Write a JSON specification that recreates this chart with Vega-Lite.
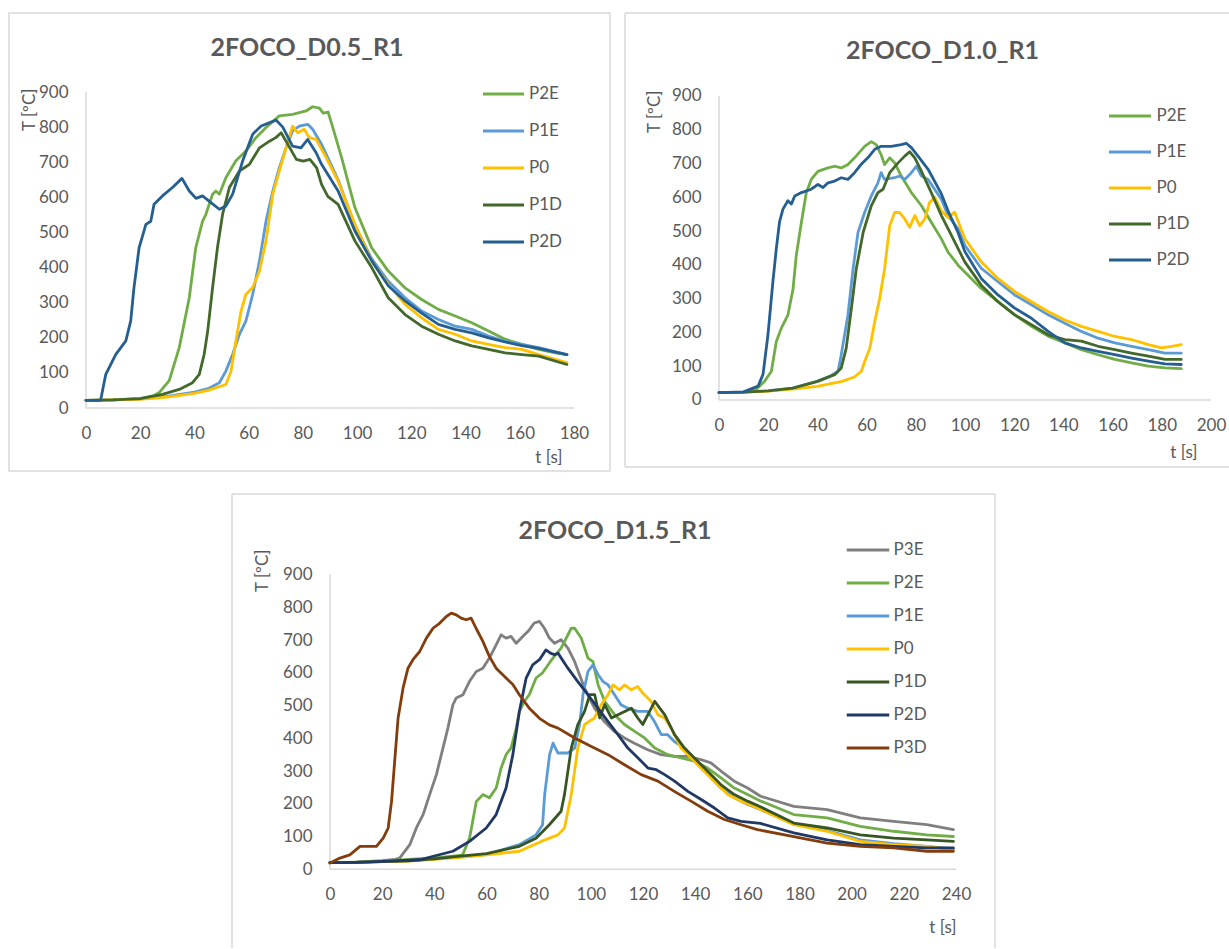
{
  "$schema": "https://vega.github.io/schema/vega-lite/v6.json",
  "background": "white",
  "padding": {"left": 8, "top": 12, "right": 1, "bottom": 1},
  "autosize": {"type": "pad"},
  "config": {
    "font": "Lato",
    "view": {"stroke": null},
    "axis": {"domain": false, "ticks": false, "grid": false, "labelFont": "Lato", "labelFontSize": 17, "labelColor": "#595959", "titleFont": "Lato", "titleFontSize": 17, "titleFontWeight": "normal", "titleColor": "#595959", "labelFlush": false, "labelOverlap": false, "labelBound": false},
    "axisX": {"labelPadding": 17, "titleAlign": "right", "titleBaseline": "alphabetic"},
    "axisY": {"labelPadding": 18, "titleAngle": 270, "titleAlign": "right", "titleBaseline": "middle"},
    "legend": {"orient": "none", "symbolType": "stroke", "symbolStrokeWidth": 3, "labelFont": "Lato", "labelFontSize": 17, "labelColor": "#595959", "padding": 0, "offset": 0, "rowPadding": 0},
    "title": {"font": "Lato", "fontSize": 25, "fontWeight": "bold", "color": "#595959", "anchor": "middle", "frame": "group", "offset": 0, "baseline": "alphabetic"}
  },
  "datasets": {
    "d05": [
      {"sensor":"P2E","time":0,"temp":22},{"sensor":"P2E","time":10,"temp":23},{"sensor":"P2E","time":20,"temp":27},{"sensor":"P2E","time":25,"temp":35},{"sensor":"P2E","time":27,"temp":44},{"sensor":"P2E","time":30.7,"temp":78},{"sensor":"P2E","time":34.4,"temp":172},{"sensor":"P2E","time":38.1,"temp":314},{"sensor":"P2E","time":40.5,"temp":457},{"sensor":"P2E","time":43,"temp":532},{"sensor":"P2E","time":44.2,"temp":551},{"sensor":"P2E","time":46.7,"temp":609},{"sensor":"P2E","time":47.9,"temp":618},{"sensor":"P2E","time":49.2,"temp":609},{"sensor":"P2E","time":51.6,"temp":656},{"sensor":"P2E","time":55.3,"temp":704},{"sensor":"P2E","time":59,"temp":732},{"sensor":"P2E","time":62.7,"temp":770},{"sensor":"P2E","time":66.4,"temp":799},{"sensor":"P2E","time":71.3,"temp":832},{"sensor":"P2E","time":76.2,"temp":836},{"sensor":"P2E","time":81.2,"temp":846},{"sensor":"P2E","time":83.6,"temp":858},{"sensor":"P2E","time":86.1,"temp":854},{"sensor":"P2E","time":87.5,"temp":840},{"sensor":"P2E","time":89.3,"temp":843},{"sensor":"P2E","time":91,"temp":800},{"sensor":"P2E","time":94.3,"temp":713},{"sensor":"P2E","time":99.2,"temp":571},{"sensor":"P2E","time":105.4,"temp":456},{"sensor":"P2E","time":111.5,"temp":390},{"sensor":"P2E","time":117.7,"temp":342},{"sensor":"P2E","time":123.8,"temp":309},{"sensor":"P2E","time":130,"temp":281},{"sensor":"P2E","time":136.2,"temp":262},{"sensor":"P2E","time":142.3,"temp":243},{"sensor":"P2E","time":148.5,"temp":219},{"sensor":"P2E","time":154.6,"temp":196},{"sensor":"P2E","time":160.8,"temp":181},{"sensor":"P2E","time":167,"temp":167},{"sensor":"P2E","time":173.1,"temp":157},{"sensor":"P2E","time":177.4,"temp":152},
      {"sensor":"P1E","time":0,"temp":22},{"sensor":"P1E","time":10,"temp":23},{"sensor":"P1E","time":20,"temp":26},{"sensor":"P1E","time":30,"temp":33},{"sensor":"P1E","time":40,"temp":45},{"sensor":"P1E","time":45,"temp":55},{"sensor":"P1E","time":49.2,"temp":72},{"sensor":"P1E","time":51.6,"temp":105},{"sensor":"P1E","time":54.1,"temp":153},{"sensor":"P1E","time":56.6,"temp":210},{"sensor":"P1E","time":59,"temp":248},{"sensor":"P1E","time":61.5,"temp":324},{"sensor":"P1E","time":64,"temp":419},{"sensor":"P1E","time":66.4,"temp":532},{"sensor":"P1E","time":68.9,"temp":618},{"sensor":"P1E","time":71.3,"temp":684},{"sensor":"P1E","time":73.8,"temp":741},{"sensor":"P1E","time":76.2,"temp":789},{"sensor":"P1E","time":78.7,"temp":803},{"sensor":"P1E","time":81.8,"temp":808},{"sensor":"P1E","time":83.6,"temp":794},{"sensor":"P1E","time":86.9,"temp":751},{"sensor":"P1E","time":90,"temp":700},{"sensor":"P1E","time":93,"temp":650},{"sensor":"P1E","time":99.2,"temp":520},{"sensor":"P1E","time":105.4,"temp":425},{"sensor":"P1E","time":111.5,"temp":361},{"sensor":"P1E","time":117.7,"temp":314},{"sensor":"P1E","time":123.8,"temp":276},{"sensor":"P1E","time":130,"temp":252},{"sensor":"P1E","time":136.2,"temp":233},{"sensor":"P1E","time":142.3,"temp":224},{"sensor":"P1E","time":148.5,"temp":205},{"sensor":"P1E","time":154.6,"temp":190},{"sensor":"P1E","time":160.8,"temp":181},{"sensor":"P1E","time":167,"temp":172},{"sensor":"P1E","time":177.4,"temp":152},
      {"sensor":"P0","time":0,"temp":22},{"sensor":"P0","time":10,"temp":23},{"sensor":"P0","time":20,"temp":25},{"sensor":"P0","time":30,"temp":31},{"sensor":"P0","time":40,"temp":42},{"sensor":"P0","time":45,"temp":50},{"sensor":"P0","time":51.6,"temp":67},{"sensor":"P0","time":53.5,"temp":105},{"sensor":"P0","time":55.3,"temp":191},{"sensor":"P0","time":57.2,"temp":276},{"sensor":"P0","time":59,"temp":324},{"sensor":"P0","time":61.5,"temp":343},{"sensor":"P0","time":64,"temp":390},{"sensor":"P0","time":66.4,"temp":476},{"sensor":"P0","time":68.9,"temp":609},{"sensor":"P0","time":71.3,"temp":675},{"sensor":"P0","time":73.8,"temp":741},{"sensor":"P0","time":76.2,"temp":803},{"sensor":"P0","time":78.1,"temp":784},{"sensor":"P0","time":80.5,"temp":794},{"sensor":"P0","time":82.4,"temp":770},{"sensor":"P0","time":84.9,"temp":765},{"sensor":"P0","time":88.6,"temp":713},{"sensor":"P0","time":93,"temp":646},{"sensor":"P0","time":99.2,"temp":523},{"sensor":"P0","time":105.4,"temp":419},{"sensor":"P0","time":111.5,"temp":352},{"sensor":"P0","time":117.7,"temp":295},{"sensor":"P0","time":123.8,"temp":257},{"sensor":"P0","time":130,"temp":224},{"sensor":"P0","time":136.2,"temp":210},{"sensor":"P0","time":142.3,"temp":191},{"sensor":"P0","time":148.5,"temp":181},{"sensor":"P0","time":154.6,"temp":172},{"sensor":"P0","time":160.8,"temp":167},{"sensor":"P0","time":167,"temp":152},{"sensor":"P0","time":177.4,"temp":129},
      {"sensor":"P1D","time":0,"temp":22},{"sensor":"P1D","time":10,"temp":23},{"sensor":"P1D","time":20,"temp":27},{"sensor":"P1D","time":28.2,"temp":39},{"sensor":"P1D","time":34.4,"temp":53},{"sensor":"P1D","time":39.3,"temp":72},{"sensor":"P1D","time":41.8,"temp":96},{"sensor":"P1D","time":43.6,"temp":153},{"sensor":"P1D","time":44.9,"temp":219},{"sensor":"P1D","time":46.7,"temp":343},{"sensor":"P1D","time":48.5,"temp":457},{"sensor":"P1D","time":50.4,"temp":552},{"sensor":"P1D","time":52.9,"temp":628},{"sensor":"P1D","time":56.6,"temp":675},{"sensor":"P1D","time":60.3,"temp":694},{"sensor":"P1D","time":64,"temp":741},{"sensor":"P1D","time":67.7,"temp":760},{"sensor":"P1D","time":70,"temp":770},{"sensor":"P1D","time":72,"temp":784},{"sensor":"P1D","time":75.2,"temp":741},{"sensor":"P1D","time":77.6,"temp":708},{"sensor":"P1D","time":80.1,"temp":703},{"sensor":"P1D","time":82.6,"temp":708},{"sensor":"P1D","time":85.1,"temp":684},{"sensor":"P1D","time":86.9,"temp":637},{"sensor":"P1D","time":89.2,"temp":603},{"sensor":"P1D","time":93,"temp":580},{"sensor":"P1D","time":99.2,"temp":476},{"sensor":"P1D","time":105.4,"temp":400},{"sensor":"P1D","time":111.5,"temp":314},{"sensor":"P1D","time":117.7,"temp":266},{"sensor":"P1D","time":123.8,"temp":233},{"sensor":"P1D","time":130,"temp":210},{"sensor":"P1D","time":136.2,"temp":191},{"sensor":"P1D","time":142.3,"temp":177},{"sensor":"P1D","time":148.5,"temp":167},{"sensor":"P1D","time":154.6,"temp":157},{"sensor":"P1D","time":160.8,"temp":152},{"sensor":"P1D","time":167,"temp":148},{"sensor":"P1D","time":177.4,"temp":124},
      {"sensor":"P2D","time":0,"temp":22},{"sensor":"P2D","time":5.4,"temp":22},{"sensor":"P2D","time":7.3,"temp":96},{"sensor":"P2D","time":11,"temp":153},{"sensor":"P2D","time":14.7,"temp":191},{"sensor":"P2D","time":16.5,"temp":248},{"sensor":"P2D","time":17.7,"temp":343},{"sensor":"P2D","time":19.6,"temp":457},{"sensor":"P2D","time":22.1,"temp":523},{"sensor":"P2D","time":23.9,"temp":532},{"sensor":"P2D","time":25.1,"temp":580},{"sensor":"P2D","time":28.2,"temp":604},{"sensor":"P2D","time":31.9,"temp":628},{"sensor":"P2D","time":35.4,"temp":654},{"sensor":"P2D","time":38.1,"temp":618},{"sensor":"P2D","time":40.6,"temp":597},{"sensor":"P2D","time":43,"temp":604},{"sensor":"P2D","time":46.1,"temp":585},{"sensor":"P2D","time":49.2,"temp":566},{"sensor":"P2D","time":51.6,"temp":575},{"sensor":"P2D","time":54.1,"temp":609},{"sensor":"P2D","time":57.8,"temp":704},{"sensor":"P2D","time":61.5,"temp":780},{"sensor":"P2D","time":64.6,"temp":803},{"sensor":"P2D","time":70.1,"temp":820},{"sensor":"P2D","time":72.6,"temp":800},{"sensor":"P2D","time":76.2,"temp":746},{"sensor":"P2D","time":79.3,"temp":741},{"sensor":"P2D","time":81.8,"temp":765},{"sensor":"P2D","time":84.9,"temp":727},{"sensor":"P2D","time":86.9,"temp":694},{"sensor":"P2D","time":93,"temp":618},{"sensor":"P2D","time":99.2,"temp":504},{"sensor":"P2D","time":105.4,"temp":419},{"sensor":"P2D","time":111.5,"temp":348},{"sensor":"P2D","time":117.7,"temp":305},{"sensor":"P2D","time":123.8,"temp":270},{"sensor":"P2D","time":130,"temp":238},{"sensor":"P2D","time":136.2,"temp":224},{"sensor":"P2D","time":142.3,"temp":214},{"sensor":"P2D","time":148.5,"temp":200},{"sensor":"P2D","time":154.6,"temp":188},{"sensor":"P2D","time":160.8,"temp":178},{"sensor":"P2D","time":167,"temp":170},{"sensor":"P2D","time":177.4,"temp":152}
    ],
    "d10": [
      {"sensor":"P2E","time":0,"temp":22},{"sensor":"P2E","time":10,"temp":23},{"sensor":"P2E","time":15,"temp":30},{"sensor":"P2E","time":18.6,"temp":56},{"sensor":"P2E","time":21.3,"temp":85},{"sensor":"P2E","time":23.3,"temp":173},{"sensor":"P2E","time":25.3,"temp":212},{"sensor":"P2E","time":28,"temp":251},{"sensor":"P2E","time":30.1,"temp":329},{"sensor":"P2E","time":31.4,"temp":427},{"sensor":"P2E","time":33.5,"temp":526},{"sensor":"P2E","time":35.5,"temp":614},{"sensor":"P2E","time":37.5,"temp":653},{"sensor":"P2E","time":40.2,"temp":677},{"sensor":"P2E","time":44.3,"temp":687},{"sensor":"P2E","time":47,"temp":692},{"sensor":"P2E","time":49.7,"temp":687},{"sensor":"P2E","time":52.4,"temp":697},{"sensor":"P2E","time":55.1,"temp":717},{"sensor":"P2E","time":59.2,"temp":751},{"sensor":"P2E","time":61.9,"temp":765},{"sensor":"P2E","time":63.9,"temp":756},{"sensor":"P2E","time":65.9,"temp":726},{"sensor":"P2E","time":67.3,"temp":697},{"sensor":"P2E","time":69.4,"temp":717},{"sensor":"P2E","time":71.4,"temp":702},{"sensor":"P2E","time":74.1,"temp":663},{"sensor":"P2E","time":78.2,"temp":614},{"sensor":"P2E","time":82.3,"temp":575},{"sensor":"P2E","time":86.3,"temp":526},{"sensor":"P2E","time":90.4,"temp":477},{"sensor":"P2E","time":93.1,"temp":438},{"sensor":"P2E","time":97.2,"temp":399},{"sensor":"P2E","time":99.9,"temp":379},{"sensor":"P2E","time":106.6,"temp":330},{"sensor":"P2E","time":113.4,"temp":291},{"sensor":"P2E","time":120.2,"temp":252},{"sensor":"P2E","time":127,"temp":218},{"sensor":"P2E","time":133.8,"temp":189},{"sensor":"P2E","time":140.6,"temp":169},{"sensor":"P2E","time":147.3,"temp":149},{"sensor":"P2E","time":154.1,"temp":134},{"sensor":"P2E","time":160.9,"temp":120},{"sensor":"P2E","time":167.7,"temp":110},{"sensor":"P2E","time":174.5,"temp":100},{"sensor":"P2E","time":181.3,"temp":95},{"sensor":"P2E","time":187.9,"temp":93},
      {"sensor":"P1E","time":0,"temp":22},{"sensor":"P1E","time":10,"temp":23},{"sensor":"P1E","time":20,"temp":27},{"sensor":"P1E","time":30,"temp":35},{"sensor":"P1E","time":40,"temp":55},{"sensor":"P1E","time":45,"temp":70},{"sensor":"P1E","time":48.4,"temp":85},{"sensor":"P1E","time":49.7,"temp":134},{"sensor":"P1E","time":52.4,"temp":251},{"sensor":"P1E","time":54.5,"temp":388},{"sensor":"P1E","time":56.5,"temp":496},{"sensor":"P1E","time":59.2,"temp":555},{"sensor":"P1E","time":61.9,"temp":604},{"sensor":"P1E","time":64.6,"temp":643},{"sensor":"P1E","time":65.9,"temp":673},{"sensor":"P1E","time":67.3,"temp":653},{"sensor":"P1E","time":71.4,"temp":658},{"sensor":"P1E","time":73.4,"temp":663},{"sensor":"P1E","time":75.5,"temp":653},{"sensor":"P1E","time":78.2,"temp":673},{"sensor":"P1E","time":80.2,"temp":692},{"sensor":"P1E","time":82.3,"temp":663},{"sensor":"P1E","time":85,"temp":653},{"sensor":"P1E","time":90.4,"temp":594},{"sensor":"P1E","time":93.1,"temp":546},{"sensor":"P1E","time":97.2,"temp":507},{"sensor":"P1E","time":99.9,"temp":458},{"sensor":"P1E","time":106.6,"temp":390},{"sensor":"P1E","time":113.4,"temp":350},{"sensor":"P1E","time":120.2,"temp":311},{"sensor":"P1E","time":127,"temp":282},{"sensor":"P1E","time":133.8,"temp":252},{"sensor":"P1E","time":140.6,"temp":227},{"sensor":"P1E","time":147.3,"temp":203},{"sensor":"P1E","time":154.1,"temp":183},{"sensor":"P1E","time":160.9,"temp":169},{"sensor":"P1E","time":167.7,"temp":159},{"sensor":"P1E","time":174.5,"temp":149},{"sensor":"P1E","time":181.3,"temp":139},{"sensor":"P1E","time":187.9,"temp":139},
      {"sensor":"P0","time":0,"temp":22},{"sensor":"P0","time":10,"temp":23},{"sensor":"P0","time":20,"temp":26},{"sensor":"P0","time":30,"temp":32},{"sensor":"P0","time":40,"temp":40},{"sensor":"P0","time":50,"temp":55},{"sensor":"P0","time":55,"temp":68},{"sensor":"P0","time":57.9,"temp":85},{"sensor":"P0","time":59.2,"temp":114},{"sensor":"P0","time":61.3,"temp":153},{"sensor":"P0","time":63.3,"temp":232},{"sensor":"P0","time":65.3,"temp":300},{"sensor":"P0","time":67.3,"temp":388},{"sensor":"P0","time":69.4,"temp":516},{"sensor":"P0","time":71.4,"temp":555},{"sensor":"P0","time":73.4,"temp":555},{"sensor":"P0","time":75.5,"temp":536},{"sensor":"P0","time":77.5,"temp":511},{"sensor":"P0","time":79.6,"temp":546},{"sensor":"P0","time":81.6,"temp":516},{"sensor":"P0","time":83.7,"temp":536},{"sensor":"P0","time":85.6,"temp":585},{"sensor":"P0","time":87.7,"temp":600},{"sensor":"P0","time":90.4,"temp":560},{"sensor":"P0","time":93.1,"temp":540},{"sensor":"P0","time":95.8,"temp":556},{"sensor":"P0","time":99.9,"temp":478},{"sensor":"P0","time":106.6,"temp":409},{"sensor":"P0","time":113.4,"temp":360},{"sensor":"P0","time":120.2,"temp":321},{"sensor":"P0","time":127,"temp":291},{"sensor":"P0","time":133.8,"temp":262},{"sensor":"P0","time":140.6,"temp":237},{"sensor":"P0","time":147.3,"temp":218},{"sensor":"P0","time":154.1,"temp":203},{"sensor":"P0","time":160.9,"temp":188},{"sensor":"P0","time":167.7,"temp":179},{"sensor":"P0","time":174.5,"temp":164},{"sensor":"P0","time":179.9,"temp":154},{"sensor":"P0","time":184,"temp":159},{"sensor":"P0","time":187.9,"temp":164},
      {"sensor":"P1D","time":0,"temp":22},{"sensor":"P1D","time":10,"temp":23},{"sensor":"P1D","time":20,"temp":27},{"sensor":"P1D","time":30,"temp":35},{"sensor":"P1D","time":40,"temp":55},{"sensor":"P1D","time":47,"temp":75},{"sensor":"P1D","time":49.7,"temp":95},{"sensor":"P1D","time":51.7,"temp":153},{"sensor":"P1D","time":53.8,"temp":270},{"sensor":"P1D","time":55.8,"temp":388},{"sensor":"P1D","time":58.6,"temp":496},{"sensor":"P1D","time":61.9,"temp":575},{"sensor":"P1D","time":64.6,"temp":614},{"sensor":"P1D","time":66.7,"temp":624},{"sensor":"P1D","time":69.4,"temp":673},{"sensor":"P1D","time":72.8,"temp":702},{"sensor":"P1D","time":75.5,"temp":722},{"sensor":"P1D","time":77.5,"temp":735},{"sensor":"P1D","time":79.6,"temp":717},{"sensor":"P1D","time":82.3,"temp":677},{"sensor":"P1D","time":86.3,"temp":614},{"sensor":"P1D","time":90.4,"temp":546},{"sensor":"P1D","time":93.1,"temp":507},{"sensor":"P1D","time":97.2,"temp":448},{"sensor":"P1D","time":99.9,"temp":409},{"sensor":"P1D","time":106.6,"temp":340},{"sensor":"P1D","time":113.4,"temp":291},{"sensor":"P1D","time":120.2,"temp":252},{"sensor":"P1D","time":127,"temp":223},{"sensor":"P1D","time":133.8,"temp":193},{"sensor":"P1D","time":140.6,"temp":179},{"sensor":"P1D","time":147.3,"temp":174},{"sensor":"P1D","time":154.1,"temp":159},{"sensor":"P1D","time":160.9,"temp":149},{"sensor":"P1D","time":167.7,"temp":139},{"sensor":"P1D","time":174.5,"temp":130},{"sensor":"P1D","time":181.3,"temp":120},{"sensor":"P1D","time":187.9,"temp":120},
      {"sensor":"P2D","time":0,"temp":22},{"sensor":"P2D","time":10,"temp":24},{"sensor":"P2D","time":15.9,"temp":41},{"sensor":"P2D","time":17.9,"temp":76},{"sensor":"P2D","time":19.9,"temp":193},{"sensor":"P2D","time":21.9,"temp":350},{"sensor":"P2D","time":23.3,"temp":448},{"sensor":"P2D","time":24.6,"temp":527},{"sensor":"P2D","time":26,"temp":565},{"sensor":"P2D","time":28,"temp":590},{"sensor":"P2D","time":29.4,"temp":580},{"sensor":"P2D","time":30.8,"temp":604},{"sensor":"P2D","time":33.5,"temp":614},{"sensor":"P2D","time":37.5,"temp":624},{"sensor":"P2D","time":40.2,"temp":638},{"sensor":"P2D","time":42.3,"temp":629},{"sensor":"P2D","time":44.3,"temp":643},{"sensor":"P2D","time":47,"temp":648},{"sensor":"P2D","time":49.7,"temp":658},{"sensor":"P2D","time":52.4,"temp":653},{"sensor":"P2D","time":55.1,"temp":673},{"sensor":"P2D","time":57.7,"temp":697},{"sensor":"P2D","time":60.5,"temp":717},{"sensor":"P2D","time":63.3,"temp":742},{"sensor":"P2D","time":65.9,"temp":751},{"sensor":"P2D","time":70,"temp":751},{"sensor":"P2D","time":74.1,"temp":756},{"sensor":"P2D","time":76.1,"temp":760},{"sensor":"P2D","time":78.2,"temp":747},{"sensor":"P2D","time":80.9,"temp":722},{"sensor":"P2D","time":85,"temp":683},{"sensor":"P2D","time":90.4,"temp":610},{"sensor":"P2D","time":93.1,"temp":560},{"sensor":"P2D","time":97.2,"temp":495},{"sensor":"P2D","time":99.9,"temp":440},{"sensor":"P2D","time":106.6,"temp":360},{"sensor":"P2D","time":113.4,"temp":311},{"sensor":"P2D","time":120.2,"temp":272},{"sensor":"P2D","time":127,"temp":242},{"sensor":"P2D","time":133.8,"temp":203},{"sensor":"P2D","time":140.6,"temp":169},{"sensor":"P2D","time":147.3,"temp":154},{"sensor":"P2D","time":154.1,"temp":144},{"sensor":"P2D","time":160.9,"temp":134},{"sensor":"P2D","time":167.7,"temp":124},{"sensor":"P2D","time":174.5,"temp":115},{"sensor":"P2D","time":181.3,"temp":107},{"sensor":"P2D","time":187.9,"temp":105}
    ],
    "d15": [
      {"sensor":"P3E","time":0,"temp":20},{"sensor":"P3E","time":10,"temp":22},{"sensor":"P3E","time":20,"temp":26},{"sensor":"P3E","time":25,"temp":30},{"sensor":"P3E","time":26.7,"temp":34},{"sensor":"P3E","time":30.6,"temp":75},{"sensor":"P3E","time":33.1,"temp":126},{"sensor":"P3E","time":35.7,"temp":167},{"sensor":"P3E","time":38.2,"temp":228},{"sensor":"P3E","time":40.8,"temp":289},{"sensor":"P3E","time":43.3,"temp":370},{"sensor":"P3E","time":45.2,"temp":431},{"sensor":"P3E","time":47.1,"temp":502},{"sensor":"P3E","time":48.4,"temp":523},{"sensor":"P3E","time":51,"temp":533},{"sensor":"P3E","time":53.5,"temp":574},{"sensor":"P3E","time":56.1,"temp":604},{"sensor":"P3E","time":58.6,"temp":614},{"sensor":"P3E","time":61.1,"temp":645},{"sensor":"P3E","time":63.7,"temp":685},{"sensor":"P3E","time":65.6,"temp":716},{"sensor":"P3E","time":67.5,"temp":706},{"sensor":"P3E","time":69.4,"temp":711},{"sensor":"P3E","time":71.4,"temp":690},{"sensor":"P3E","time":73.9,"temp":711},{"sensor":"P3E","time":76.4,"temp":731},{"sensor":"P3E","time":78.3,"temp":752},{"sensor":"P3E","time":80.3,"temp":757},{"sensor":"P3E","time":82.2,"temp":736},{"sensor":"P3E","time":84.1,"temp":706},{"sensor":"P3E","time":86.1,"temp":690},{"sensor":"P3E","time":88.6,"temp":701},{"sensor":"P3E","time":91.2,"temp":675},{"sensor":"P3E","time":93.8,"temp":634},{"sensor":"P3E","time":97.6,"temp":553},{"sensor":"P3E","time":101.4,"temp":492},{"sensor":"P3E","time":105.2,"temp":451},{"sensor":"P3E","time":109,"temp":421},{"sensor":"P3E","time":112.9,"temp":401},{"sensor":"P3E","time":116.7,"temp":385},{"sensor":"P3E","time":121.8,"temp":365},{"sensor":"P3E","time":126.9,"temp":350},{"sensor":"P3E","time":132,"temp":345},{"sensor":"P3E","time":137.1,"temp":345},{"sensor":"P3E","time":142.2,"temp":335},{"sensor":"P3E","time":146,"temp":325},{"sensor":"P3E","time":149.9,"temp":300},{"sensor":"P3E","time":155,"temp":269},{"sensor":"P3E","time":160.1,"temp":248},{"sensor":"P3E","time":165.1,"temp":223},{"sensor":"P3E","time":177.8,"temp":192},{"sensor":"P3E","time":190.6,"temp":182},{"sensor":"P3E","time":203.3,"temp":157},{"sensor":"P3E","time":216.1,"temp":146},{"sensor":"P3E","time":228.8,"temp":136},{"sensor":"P3E","time":239,"temp":121},
      {"sensor":"P2E","time":0,"temp":20},{"sensor":"P2E","time":10,"temp":22},{"sensor":"P2E","time":20,"temp":25},{"sensor":"P2E","time":30,"temp":30},{"sensor":"P2E","time":40,"temp":35},{"sensor":"P2E","time":50,"temp":42},{"sensor":"P2E","time":50.9,"temp":45},{"sensor":"P2E","time":53.5,"temp":95},{"sensor":"P2E","time":56.1,"temp":207},{"sensor":"P2E","time":58.6,"temp":228},{"sensor":"P2E","time":61.1,"temp":218},{"sensor":"P2E","time":63.7,"temp":248},{"sensor":"P2E","time":65.6,"temp":309},{"sensor":"P2E","time":67.5,"temp":350},{"sensor":"P2E","time":69.4,"temp":370},{"sensor":"P2E","time":71.4,"temp":431},{"sensor":"P2E","time":72.6,"temp":482},{"sensor":"P2E","time":74.5,"temp":513},{"sensor":"P2E","time":76.4,"temp":533},{"sensor":"P2E","time":79,"temp":584},{"sensor":"P2E","time":81.5,"temp":600},{"sensor":"P2E","time":84.1,"temp":630},{"sensor":"P2E","time":86,"temp":650},{"sensor":"P2E","time":88.6,"temp":675},{"sensor":"P2E","time":92.5,"temp":736},{"sensor":"P2E","time":93.8,"temp":736},{"sensor":"P2E","time":96.3,"temp":706},{"sensor":"P2E","time":98.9,"temp":645},{"sensor":"P2E","time":100.8,"temp":634},{"sensor":"P2E","time":102.8,"temp":563},{"sensor":"P2E","time":105.3,"temp":513},{"sensor":"P2E","time":109.1,"temp":472},{"sensor":"P2E","time":112.9,"temp":442},{"sensor":"P2E","time":116.8,"temp":421},{"sensor":"P2E","time":120.6,"temp":401},{"sensor":"P2E","time":124.5,"temp":370},{"sensor":"P2E","time":129.5,"temp":350},{"sensor":"P2E","time":134.6,"temp":340},{"sensor":"P2E","time":139.7,"temp":330},{"sensor":"P2E","time":144.8,"temp":309},{"sensor":"P2E","time":149.9,"temp":279},{"sensor":"P2E","time":155,"temp":248},{"sensor":"P2E","time":160.1,"temp":228},{"sensor":"P2E","time":165.2,"temp":208},{"sensor":"P2E","time":177.8,"temp":167},{"sensor":"P2E","time":190.6,"temp":157},{"sensor":"P2E","time":203.3,"temp":131},{"sensor":"P2E","time":216.1,"temp":116},{"sensor":"P2E","time":228.8,"temp":105},{"sensor":"P2E","time":239,"temp":100},
      {"sensor":"P1E","time":0,"temp":20},{"sensor":"P1E","time":10,"temp":21},{"sensor":"P1E","time":20,"temp":23},{"sensor":"P1E","time":30,"temp":26},{"sensor":"P1E","time":40,"temp":32},{"sensor":"P1E","time":50,"temp":38},{"sensor":"P1E","time":59.9,"temp":45},{"sensor":"P1E","time":72.6,"temp":75},{"sensor":"P1E","time":79,"temp":105},{"sensor":"P1E","time":81.5,"temp":136},{"sensor":"P1E","time":82.3,"temp":228},{"sensor":"P1E","time":84.2,"temp":350},{"sensor":"P1E","time":85.5,"temp":385},{"sensor":"P1E","time":87.4,"temp":355},{"sensor":"P1E","time":91.2,"temp":355},{"sensor":"P1E","time":93.8,"temp":370},{"sensor":"P1E","time":95.7,"temp":442},{"sensor":"P1E","time":97,"temp":533},{"sensor":"P1E","time":98.9,"temp":604},{"sensor":"P1E","time":100.8,"temp":624},{"sensor":"P1E","time":102.8,"temp":594},{"sensor":"P1E","time":104.7,"temp":573},{"sensor":"P1E","time":106.6,"temp":563},{"sensor":"P1E","time":109.1,"temp":533},{"sensor":"P1E","time":111.6,"temp":502},{"sensor":"P1E","time":114.2,"temp":492},{"sensor":"P1E","time":118,"temp":482},{"sensor":"P1E","time":121.8,"temp":482},{"sensor":"P1E","time":124.4,"temp":451},{"sensor":"P1E","time":127,"temp":411},{"sensor":"P1E","time":129.5,"temp":411},{"sensor":"P1E","time":132,"temp":390},{"sensor":"P1E","time":135.9,"temp":370},{"sensor":"P1E","time":139.7,"temp":330},{"sensor":"P1E","time":144.8,"temp":289},{"sensor":"P1E","time":149.9,"temp":248},{"sensor":"P1E","time":155,"temp":218},{"sensor":"P1E","time":160.1,"temp":198},{"sensor":"P1E","time":165.2,"temp":182},{"sensor":"P1E","time":177.8,"temp":138},{"sensor":"P1E","time":190.6,"temp":118},{"sensor":"P1E","time":203.3,"temp":90},{"sensor":"P1E","time":216.1,"temp":78},{"sensor":"P1E","time":228.8,"temp":70},{"sensor":"P1E","time":239,"temp":62},
      {"sensor":"P0","time":0,"temp":20},{"sensor":"P0","time":10,"temp":21},{"sensor":"P0","time":20,"temp":23},{"sensor":"P0","time":30,"temp":25},{"sensor":"P0","time":40,"temp":30},{"sensor":"P0","time":50,"temp":36},{"sensor":"P0","time":60,"temp":44},{"sensor":"P0","time":72.6,"temp":55},{"sensor":"P0","time":81,"temp":85},{"sensor":"P0","time":87.4,"temp":105},{"sensor":"P0","time":89.9,"temp":126},{"sensor":"P0","time":92.5,"temp":228},{"sensor":"P0","time":95,"temp":370},{"sensor":"P0","time":97.6,"temp":442},{"sensor":"P0","time":101.4,"temp":462},{"sensor":"P0","time":104,"temp":503},{"sensor":"P0","time":106.6,"temp":533},{"sensor":"P0","time":108.5,"temp":563},{"sensor":"P0","time":111,"temp":548},{"sensor":"P0","time":112.9,"temp":563},{"sensor":"P0","time":115.5,"temp":548},{"sensor":"P0","time":118,"temp":558},{"sensor":"P0","time":119.9,"temp":538},{"sensor":"P0","time":123.1,"temp":513},{"sensor":"P0","time":125.7,"temp":472},{"sensor":"P0","time":128.3,"temp":462},{"sensor":"P0","time":130.8,"temp":431},{"sensor":"P0","time":134.6,"temp":370},{"sensor":"P0","time":138.5,"temp":340},{"sensor":"P0","time":142.3,"temp":309},{"sensor":"P0","time":147.4,"temp":269},{"sensor":"P0","time":152.5,"temp":228},{"sensor":"P0","time":157.6,"temp":208},{"sensor":"P0","time":163.9,"temp":187},{"sensor":"P0","time":177.8,"temp":136},{"sensor":"P0","time":190.6,"temp":116},{"sensor":"P0","time":203.3,"temp":85},{"sensor":"P0","time":216.1,"temp":75},{"sensor":"P0","time":228.8,"temp":70},{"sensor":"P0","time":239,"temp":60},
      {"sensor":"P1D","time":0,"temp":20},{"sensor":"P1D","time":10,"temp":21},{"sensor":"P1D","time":20,"temp":23},{"sensor":"P1D","time":30,"temp":26},{"sensor":"P1D","time":40,"temp":32},{"sensor":"P1D","time":50,"temp":40},{"sensor":"P1D","time":60,"temp":48},{"sensor":"P1D","time":72.6,"temp":70},{"sensor":"P1D","time":79,"temp":95},{"sensor":"P1D","time":84.1,"temp":136},{"sensor":"P1D","time":88.6,"temp":177},{"sensor":"P1D","time":89.9,"temp":228},{"sensor":"P1D","time":92.5,"temp":370},{"sensor":"P1D","time":95,"temp":442},{"sensor":"P1D","time":97.6,"temp":482},{"sensor":"P1D","time":99.6,"temp":533},{"sensor":"P1D","time":101.5,"temp":533},{"sensor":"P1D","time":103.4,"temp":462},{"sensor":"P1D","time":105.3,"temp":503},{"sensor":"P1D","time":107.9,"temp":462},{"sensor":"P1D","time":110.4,"temp":472},{"sensor":"P1D","time":113,"temp":482},{"sensor":"P1D","time":115.5,"temp":492},{"sensor":"P1D","time":118,"temp":462},{"sensor":"P1D","time":119.9,"temp":442},{"sensor":"P1D","time":121.9,"temp":472},{"sensor":"P1D","time":124.5,"temp":513},{"sensor":"P1D","time":126.4,"temp":492},{"sensor":"P1D","time":128.3,"temp":472},{"sensor":"P1D","time":132.1,"temp":411},{"sensor":"P1D","time":135.9,"temp":370},{"sensor":"P1D","time":139.7,"temp":340},{"sensor":"P1D","time":144.8,"temp":299},{"sensor":"P1D","time":149.9,"temp":258},{"sensor":"P1D","time":155,"temp":228},{"sensor":"P1D","time":160.1,"temp":208},{"sensor":"P1D","time":165.2,"temp":190},{"sensor":"P1D","time":177.8,"temp":141},{"sensor":"P1D","time":190.6,"temp":126},{"sensor":"P1D","time":203.3,"temp":105},{"sensor":"P1D","time":216.1,"temp":95},{"sensor":"P1D","time":228.8,"temp":90},{"sensor":"P1D","time":239,"temp":85},
      {"sensor":"P2D","time":0,"temp":20},{"sensor":"P2D","time":10,"temp":21},{"sensor":"P2D","time":20,"temp":24},{"sensor":"P2D","time":34.4,"temp":29},{"sensor":"P2D","time":47.1,"temp":55},{"sensor":"P2D","time":53.5,"temp":85},{"sensor":"P2D","time":59.9,"temp":126},{"sensor":"P2D","time":63.7,"temp":167},{"sensor":"P2D","time":67.5,"temp":248},{"sensor":"P2D","time":70.1,"temp":350},{"sensor":"P2D","time":72.6,"temp":482},{"sensor":"P2D","time":75.2,"temp":584},{"sensor":"P2D","time":77.7,"temp":624},{"sensor":"P2D","time":80.3,"temp":640},{"sensor":"P2D","time":82.8,"temp":670},{"sensor":"P2D","time":84.5,"temp":660},{"sensor":"P2D","time":86.1,"temp":655},{"sensor":"P2D","time":87.4,"temp":660},{"sensor":"P2D","time":91.2,"temp":614},{"sensor":"P2D","time":95,"temp":573},{"sensor":"P2D","time":98.9,"temp":533},{"sensor":"P2D","time":102.7,"temp":492},{"sensor":"P2D","time":106.6,"temp":451},{"sensor":"P2D","time":110.4,"temp":411},{"sensor":"P2D","time":114.2,"temp":370},{"sensor":"P2D","time":118.1,"temp":340},{"sensor":"P2D","time":121.9,"temp":309},{"sensor":"P2D","time":125.1,"temp":304},{"sensor":"P2D","time":128.3,"temp":289},{"sensor":"P2D","time":132.1,"temp":269},{"sensor":"P2D","time":137.2,"temp":238},{"sensor":"P2D","time":142.3,"temp":213},{"sensor":"P2D","time":147.4,"temp":187},{"sensor":"P2D","time":152.5,"temp":157},{"sensor":"P2D","time":157.6,"temp":146},{"sensor":"P2D","time":165,"temp":140},{"sensor":"P2D","time":177.8,"temp":111},{"sensor":"P2D","time":190.6,"temp":90},{"sensor":"P2D","time":203.3,"temp":75},{"sensor":"P2D","time":216.1,"temp":70},{"sensor":"P2D","time":228.8,"temp":65},{"sensor":"P2D","time":239,"temp":65},
      {"sensor":"P3D","time":0,"temp":19},{"sensor":"P3D","time":3.8,"temp":34},{"sensor":"P3D","time":7.6,"temp":44},{"sensor":"P3D","time":11.5,"temp":70},{"sensor":"P3D","time":17.8,"temp":70},{"sensor":"P3D","time":20.4,"temp":95},{"sensor":"P3D","time":22.3,"temp":126},{"sensor":"P3D","time":23.6,"temp":208},{"sensor":"P3D","time":24.8,"temp":330},{"sensor":"P3D","time":26.1,"temp":461},{"sensor":"P3D","time":28,"temp":553},{"sensor":"P3D","time":29.9,"temp":614},{"sensor":"P3D","time":31.8,"temp":640},{"sensor":"P3D","time":34.4,"temp":665},{"sensor":"P3D","time":36.9,"temp":705},{"sensor":"P3D","time":39.5,"temp":736},{"sensor":"P3D","time":42,"temp":751},{"sensor":"P3D","time":44.6,"temp":772},{"sensor":"P3D","time":46.5,"temp":782},{"sensor":"P3D","time":48.4,"temp":777},{"sensor":"P3D","time":50.3,"temp":767},{"sensor":"P3D","time":52.2,"temp":762},{"sensor":"P3D","time":54.1,"temp":767},{"sensor":"P3D","time":56,"temp":736},{"sensor":"P3D","time":58.6,"temp":696},{"sensor":"P3D","time":61.1,"temp":650},{"sensor":"P3D","time":63.7,"temp":614},{"sensor":"P3D","time":67.5,"temp":584},{"sensor":"P3D","time":70.1,"temp":564},{"sensor":"P3D","time":72.6,"temp":533},{"sensor":"P3D","time":76.4,"temp":492},{"sensor":"P3D","time":80.3,"temp":461},{"sensor":"P3D","time":84.1,"temp":441},{"sensor":"P3D","time":87.4,"temp":431},{"sensor":"P3D","time":93.8,"temp":401},{"sensor":"P3D","time":100.2,"temp":375},{"sensor":"P3D","time":106.6,"temp":350},{"sensor":"P3D","time":112.9,"temp":319},{"sensor":"P3D","time":119.3,"temp":289},{"sensor":"P3D","time":125.7,"temp":269},{"sensor":"P3D","time":132,"temp":238},{"sensor":"P3D","time":138.4,"temp":208},{"sensor":"P3D","time":144.8,"temp":177},{"sensor":"P3D","time":151.2,"temp":152},{"sensor":"P3D","time":157.6,"temp":136},{"sensor":"P3D","time":163.9,"temp":121},{"sensor":"P3D","time":177.8,"temp":100},{"sensor":"P3D","time":190.6,"temp":80},{"sensor":"P3D","time":203.3,"temp":70},{"sensor":"P3D","time":216.1,"temp":65},{"sensor":"P3D","time":228.8,"temp":55},{"sensor":"P3D","time":239,"temp":55}
    ]
  },
  "spacing": 21,
  "resolve": {"scale": {"color": "independent"}, "legend": {"color": "independent"}},
  "vconcat": [
    {
      "spacing": 13,
      "resolve": {"scale": {"color": "independent"}, "legend": {"color": "independent"}},
      "hconcat": [
        {
          "width": 601,
          "height": 458,
          "title": {"text": "2FOCO_D0.5_R1", "dy": 53, "dx": -2.5},
          "layer": [
            {
              "data": {"values": [{}]},
              "mark": {"type": "rect", "fillOpacity": 0, "stroke": "#d9d9d9", "strokeWidth": 1.5},
              "encoding": {
                "x": {"datum": -28.4, "type": "quantitative", "title": "t [s]", "scale": {"domain": [-28.4, 193.3], "nice": false, "zero": false}},
                "x2": {"datum": 193.3},
                "y": {"datum": -179.4, "type": "quantitative", "title": "T [ºC]", "scale": {"domain": [-179.4, 1125], "nice": false, "zero": false}},
                "y2": {"datum": 1125}
              }
            },
            {
              "data": {"values": [{}]},
              "mark": {"type": "rule", "color": "#d9d9d9", "strokeWidth": 1.5},
              "encoding": {
                "x": {"datum": 0, "type": "quantitative", "title": "t [s]", "scale": {"domain": [-28.4, 193.3], "nice": false, "zero": false}},
                "x2": {"datum": 180},
                "y": {"datum": 0, "type": "quantitative", "title": "T [ºC]", "scale": {"domain": [-179.4, 1125], "nice": false, "zero": false}}
              }
            },
            {
              "data": {"values": [{}]},
              "mark": {"type": "rule", "color": "#d9d9d9", "strokeWidth": 1.5},
              "encoding": {
                "x": {"datum": 0, "type": "quantitative", "title": "t [s]", "scale": {"domain": [-28.4, 193.3], "nice": false, "zero": false}},
                "y": {"datum": 0, "type": "quantitative", "title": "T [ºC]", "scale": {"domain": [-179.4, 1125], "nice": false, "zero": false}},
                "y2": {"datum": 900}
              }
            },
            {
              "data": {"name": "d05"},
              "mark": {"type": "line", "strokeWidth": 2.8, "strokeJoin": "round", "strokeCap": "round"},
              "encoding": {
                "x": {"field": "time", "type": "quantitative", "title": "t [s]", "scale": {"domain": [-28.4, 193.3], "nice": false, "zero": false},
                  "axis": {"values": [0, 20, 40, 60, 80, 100, 120, 140, 160, 180], "offset": -63, "titleX": 553, "titleY": 54}},
                "y": {"field": "temp", "type": "quantitative", "title": "T [ºC]", "scale": {"domain": [-179.4, 1125], "nice": false, "zero": false},
                  "axis": {"values": [0, 100, 200, 300, 400, 500, 600, 700, 800, 900], "offset": -77, "titleX": -57, "titleY": 75}},
                "color": {"field": "sensor", "type": "nominal",
                  "scale": {"domain": ["P2E", "P1E", "P0", "P1D", "P2D"], "range": ["#70ad47", "#5b9bd5", "#ffc000", "#43682b", "#255e91"]},
                  "legend": {"title": null, "legendX": 472.5, "legendY": 62.6, "symbolSize": 1681, "clipHeight": 36.9, "rowPadding": 0, "labelOffset": 3.5}}
              }
            }
          ]
        },
        {
          "width": 605,
          "height": 454,
          "title": {"text": "2FOCO_D1.0_R1", "dy": 56, "dx": 15},
          "layer": [
            {
              "data": {"values": [{}]},
              "mark": {"type": "rule", "color": "#d9d9d9", "strokeWidth": 1.5},
              "encoding": {
                "x": {"datum": -38.21, "type": "quantitative", "title": "t [s]", "scale": {"domain": [-38.21, 207.72], "nice": false, "zero": false}},
                "x2": {"datum": 207.72},
                "y": {"datum": 1145.7, "type": "quantitative", "title": "T [ºC]", "scale": {"domain": [-198.4, 1145.7], "nice": false, "zero": false}}
              }
            },
            {
              "data": {"values": [{}]},
              "mark": {"type": "rule", "color": "#d9d9d9", "strokeWidth": 1.5},
              "encoding": {
                "x": {"datum": -38.21, "type": "quantitative", "title": "t [s]", "scale": {"domain": [-38.21, 207.72], "nice": false, "zero": false}},
                "x2": {"datum": 207.72},
                "y": {"datum": -198.4, "type": "quantitative", "title": "T [ºC]", "scale": {"domain": [-198.4, 1145.7], "nice": false, "zero": false}}
              }
            },
            {
              "data": {"values": [{}]},
              "mark": {"type": "rule", "color": "#d9d9d9", "strokeWidth": 1.5},
              "encoding": {
                "x": {"datum": -38.21, "type": "quantitative", "title": "t [s]", "scale": {"domain": [-38.21, 207.72], "nice": false, "zero": false}},
                "y": {"datum": -198.4, "type": "quantitative", "title": "T [ºC]", "scale": {"domain": [-198.4, 1145.7], "nice": false, "zero": false}},
                "y2": {"datum": 1145.7}
              }
            },
            {
              "data": {"values": [{}]},
              "mark": {"type": "rule", "color": "#d9d9d9", "strokeWidth": 1.5},
              "encoding": {
                "x": {"datum": 0, "type": "quantitative", "title": "t [s]", "scale": {"domain": [-38.21, 207.72], "nice": false, "zero": false}},
                "x2": {"datum": 200},
                "y": {"datum": 0, "type": "quantitative", "title": "T [ºC]", "scale": {"domain": [-198.4, 1145.7], "nice": false, "zero": false}}
              }
            },
            {
              "data": {"values": [{}]},
              "mark": {"type": "rule", "color": "#d9d9d9", "strokeWidth": 1.5},
              "encoding": {
                "x": {"datum": 0, "type": "quantitative", "title": "t [s]", "scale": {"domain": [-38.21, 207.72], "nice": false, "zero": false}},
                "y": {"datum": 0, "type": "quantitative", "title": "T [ºC]", "scale": {"domain": [-198.4, 1145.7], "nice": false, "zero": false}},
                "y2": {"datum": 900}
              }
            },
            {
              "data": {"name": "d10"},
              "mark": {"type": "line", "strokeWidth": 2.8, "strokeJoin": "round", "strokeCap": "round"},
              "encoding": {
                "x": {"field": "time", "type": "quantitative", "title": "t [s]", "scale": {"domain": [-38.21, 207.72], "nice": false, "zero": false},
                  "axis": {"values": [0, 20, 40, 60, 80, 100, 120, 140, 160, 180, 200], "offset": -67, "titleX": 572, "titleY": 57}},
                "y": {"field": "temp", "type": "quantitative", "title": "T [ºC]", "scale": {"domain": [-198.4, 1145.7], "nice": false, "zero": false},
                  "axis": {"values": [0, 100, 200, 300, 400, 500, 600, 700, 800, 900], "offset": -94, "titleX": -65, "titleY": 77}},
                "color": {"field": "sensor", "type": "nominal",
                  "scale": {"domain": ["P2E", "P1E", "P0", "P1D", "P2D"], "range": ["#70ad47", "#5b9bd5", "#ffc000", "#43682b", "#255e91"]},
                  "legend": {"title": null, "legendX": 482.5, "legendY": 85.2, "symbolSize": 1764, "clipHeight": 35.6, "rowPadding": 0, "labelOffset": 4}}
              }
            }
          ]
        }
      ]
    },
    {
      "spacing": 13,
      "resolve": {"scale": {"color": "independent"}, "legend": {"color": "independent"}},
      "hconcat": [
        {
          "width": 209,
          "height": 10,
          "data": {"values": []},
          "mark": "point"
        },
        {
          "width": 763,
          "height": 454,
          "title": {"text": "2FOCO_D1.5_R1", "dy": 55, "dx": 1.5},
          "layer": [
            {
              "data": {"values": [{}]},
              "mark": {"type": "rule", "color": "#d9d9d9", "strokeWidth": 1.5},
              "encoding": {
                "x": {"datum": -37.57, "type": "quantitative", "title": "t [s]", "scale": {"domain": [-37.57, 254.95], "nice": false, "zero": false}},
                "x2": {"datum": 254.95},
                "y": {"datum": 1146, "type": "quantitative", "title": "T [ºC]", "scale": {"domain": [-240.5, 1146], "nice": false, "zero": false}}
              }
            },
            {
              "data": {"values": [{}]},
              "mark": {"type": "rule", "color": "#d9d9d9", "strokeWidth": 1.5},
              "encoding": {
                "x": {"datum": -37.57, "type": "quantitative", "title": "t [s]", "scale": {"domain": [-37.57, 254.95], "nice": false, "zero": false}},
                "y": {"datum": -240.5, "type": "quantitative", "title": "T [ºC]", "scale": {"domain": [-240.5, 1146], "nice": false, "zero": false}},
                "y2": {"datum": 1146}
              }
            },
            {
              "data": {"values": [{}]},
              "mark": {"type": "rule", "color": "#d9d9d9", "strokeWidth": 1.5},
              "encoding": {
                "x": {"datum": 254.95, "type": "quantitative", "title": "t [s]", "scale": {"domain": [-37.57, 254.95], "nice": false, "zero": false}},
                "y": {"datum": -240.5, "type": "quantitative", "title": "T [ºC]", "scale": {"domain": [-240.5, 1146], "nice": false, "zero": false}},
                "y2": {"datum": 1146}
              }
            },
            {
              "data": {"values": [{}]},
              "mark": {"type": "rule", "color": "#d9d9d9", "strokeWidth": 1.5},
              "encoding": {
                "x": {"datum": 0, "type": "quantitative", "title": "t [s]", "scale": {"domain": [-37.57, 254.95], "nice": false, "zero": false}},
                "x2": {"datum": 240},
                "y": {"datum": 0, "type": "quantitative", "title": "T [ºC]", "scale": {"domain": [-240.5, 1146], "nice": false, "zero": false}}
              }
            },
            {
              "data": {"values": [{}]},
              "mark": {"type": "rule", "color": "#d9d9d9", "strokeWidth": 1.5},
              "encoding": {
                "x": {"datum": 0, "type": "quantitative", "title": "t [s]", "scale": {"domain": [-37.57, 254.95], "nice": false, "zero": false}},
                "y": {"datum": 0, "type": "quantitative", "title": "T [ºC]", "scale": {"domain": [-240.5, 1146], "nice": false, "zero": false}},
                "y2": {"datum": 900}
              }
            },
            {
              "data": {"name": "d15"},
              "mark": {"type": "line", "strokeWidth": 2.8, "strokeJoin": "round", "strokeCap": "round"},
              "encoding": {
                "x": {"field": "time", "type": "quantitative", "title": "t [s]", "scale": {"domain": [-37.57, 254.95], "nice": false, "zero": false},
                  "axis": {"values": [0, 20, 40, 60, 80, 100, 120, 140, 160, 180, 200, 220, 240], "offset": -79, "titleX": 724, "titleY": 63}},
                "y": {"field": "temp", "type": "quantitative", "title": "T [ºC]", "scale": {"domain": [-240.5, 1146], "nice": false, "zero": false},
                  "axis": {"values": [0, 100, 200, 300, 400, 500, 600, 700, 800, 900], "offset": -98, "titleX": -68, "titleY": 55}},
                "color": {"field": "sensor", "type": "nominal",
                  "scale": {"domain": ["P3E", "P2E", "P1E", "P0", "P1D", "P2D", "P3D"], "range": ["#7f7f7f", "#70ad47", "#5b9bd5", "#ffc000", "#375623", "#203864", "#843c0c"]},
                  "legend": {"title": null, "legendX": 613, "legendY": 39.8, "symbolSize": 1806, "clipHeight": 32.4, "rowPadding": 0, "labelOffset": 2.6}}
              }
            }
          ]
        }
      ]
    }
  ]
}
